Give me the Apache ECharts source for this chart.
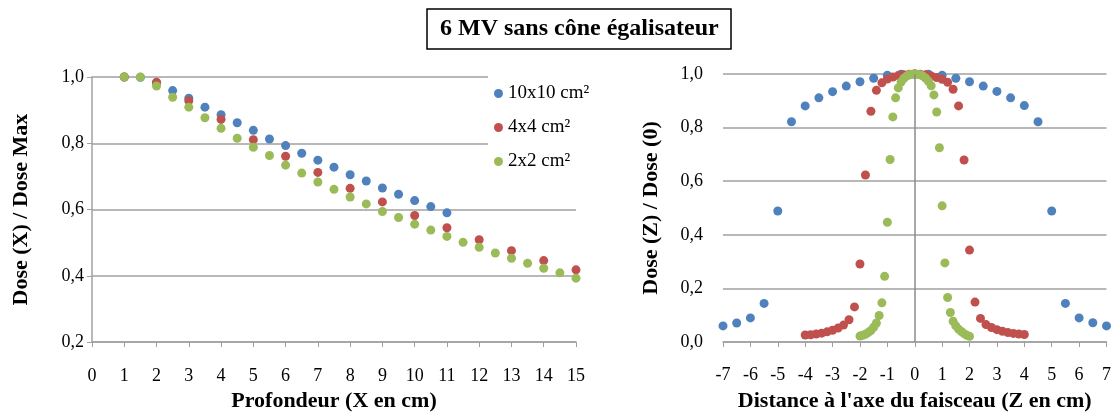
<!DOCTYPE html>
<html>
<head>
<meta charset="utf-8">
<script src="https://cdn.jsdelivr.net/npm/echarts@6/dist/echarts.min.js"></script>
<style>
  html, body { margin: 0; padding: 0; background: #fff; }
  #chart { width: 1114px; height: 417px; }
</style>
</head>
<body>
<div id="chart"></div>
<script>
// rendement en profondeur (gauche)
const depth10 = [1, 1.5, 2, 2.5, 3, 3.5, 4, 4.5, 5, 5.5, 6, 6.5, 7, 7.5, 8, 8.5, 9, 9.5, 10, 10.5, 11]
const pdd10 = [1.000, 0.999, 0.982, 0.959, 0.936, 0.909, 0.886, 0.862, 0.839, 0.813, 0.793, 0.770, 0.749, 0.728, 0.705, 0.686, 0.665, 0.646, 0.627, 0.609, 0.590]
const depth4 = [1, 2, 3, 4, 5, 6, 7, 8, 9, 10, 11, 12, 13, 14, 15]
const pdd4 = [1.000, 0.984, 0.928, 0.872, 0.811, 0.761, 0.712, 0.664, 0.623, 0.582, 0.545, 0.509, 0.476, 0.446, 0.418]
const depth2 = [1, 1.5, 2, 2.5, 3, 3.5, 4, 4.5, 5, 5.5, 6, 6.5, 7, 7.5, 8, 8.5, 9, 9.5, 10, 10.5, 11, 11.5, 12, 12.5, 13, 13.5, 14, 14.5, 15]
const pdd2 = [1.000, 1.000, 0.973, 0.939, 0.909, 0.877, 0.845, 0.815, 0.788, 0.763, 0.734, 0.710, 0.683, 0.661, 0.638, 0.617, 0.594, 0.576, 0.556, 0.538, 0.519, 0.501, 0.486, 0.469, 0.453, 0.438, 0.423, 0.409, 0.393]

// profils de dose (droite)
const dist10 = [-7, -6.5, -6, -5.5, -5, -4.5, -4, -3.5, -3, -2.5, -2, -1.5, -1, -0.5, 0, 0.5, 1, 1.5, 2, 2.5, 3, 3.5, 4, 4.5, 5, 5.5, 6, 6.5, 7]
const prof10 = [0.060, 0.071, 0.090, 0.144, 0.489, 0.822, 0.881, 0.911, 0.934, 0.955, 0.971, 0.984, 0.995, 0.999, 1.000, 0.999, 0.995, 0.984, 0.971, 0.955, 0.935, 0.911, 0.882, 0.822, 0.489, 0.144, 0.090, 0.072, 0.060]
const dist4 = [-4, -3.8, -3.6, -3.4, -3.2, -3, -2.8, -2.6, -2.4, -2.2, -2, -1.8, -1.6, -1.4, -1.2, -1, -0.8, -0.6, -0.4, -0.2, 0,
  0.2, 0.4, 0.6, 0.8, 1, 1.2, 1.4, 1.6, 1.8, 2, 2.2, 2.4, 2.6, 2.8, 3, 3.2, 3.4, 3.6, 3.8, 4]
const prof4 = [0.026, 0.027, 0.030, 0.033, 0.038, 0.044, 0.052, 0.063, 0.083, 0.131, 0.291, 0.623, 0.861, 0.939, 0.967, 0.981, 0.989, 0.994, 0.997, 0.999, 1.000,
  0.999, 0.997, 0.993, 0.987, 0.980, 0.969, 0.943, 0.881, 0.679, 0.343, 0.149, 0.088, 0.065, 0.054, 0.046, 0.040, 0.035, 0.032, 0.030, 0.028]
const dist2 = [-2, -1.9, -1.8, -1.7, -1.6, -1.5, -1.4, -1.3, -1.2, -1.1, -1, -0.9, -0.8, -0.7, -0.6, -0.5, -0.4, -0.3, -0.2, -0.1, 0,
  0.1, 0.2, 0.3, 0.4, 0.5, 0.6, 0.7, 0.8, 0.9, 1, 1.1, 1.2, 1.3, 1.4, 1.5, 1.6, 1.7, 1.8, 1.9, 2]
const prof2 = [0.022, 0.025, 0.029, 0.035, 0.043, 0.055, 0.071, 0.099, 0.146, 0.245, 0.447, 0.681, 0.840, 0.911, 0.948, 0.970, 0.983, 0.992, 0.997, 0.999, 1.000,
  0.999, 0.997, 0.992, 0.984, 0.973, 0.956, 0.922, 0.858, 0.725, 0.508, 0.295, 0.166, 0.110, 0.077, 0.060, 0.048, 0.039, 0.031, 0.025, 0.021]

const names = ['10x10 cm²', '4x4 cm²', '2x2 cm²']
const colors = ['#4F81BD', '#C0504D', '#9BBB59']

const FONT = 'Liberation Serif'
const gridGray = '#a0a0a0'

let zip = (xs, ys) => xs.map((x, i) => [x, ys[i]])
let fmt = (v) => v.toFixed(1).replace('.', ',')
let nameStyle = { fontFamily: FONT, fontSize: 22, fontWeight: 'bold', color: '#000' }
let dots = { opacity: 1 }

let chart = echarts.init(document.getElementById('chart'))

chart.setOption({
  animation: false,
  color: colors,
  textStyle: { fontFamily: FONT, color: '#000' },
  title: {
    text: '6 MV sans cône égalisateur',
    left: 427,
    top: 9,
    padding: [8, 13, 8, 13],
    borderColor: '#000',
    borderWidth: 1.5,
    textStyle: { fontFamily: FONT, fontSize: 24, fontWeight: 'bold', color: '#000' }
  },
  legend: {
    orient: 'vertical',
    left: 488,
    top: 75,
    itemGap: 15,
    itemWidth: 9,
    itemHeight: 9,
    icon: 'circle',
    backgroundColor: '#fff',
    padding: [9, 8, 10, 6],
    data: names,
    textStyle: { fontFamily: FONT, fontSize: 19, color: '#000' }
  },
  grid: [
    { left: 92, top: 77, width: 484, height: 273 },
    { left: 723, top: 74, width: 385, height: 278 }
  ],
  xAxis: [
    {
      gridIndex: 0, type: 'value', min: 0, max: 15, interval: 1,
      name: 'Profondeur (X en cm)', nameLocation: 'middle', nameGap: 47,
      nameTextStyle: nameStyle,
      axisLine: { lineStyle: { color: gridGray, width: 1.5 } },
      axisTick: { show: true, length: 5, lineStyle: { color: gridGray } },
      axisLabel: { fontSize: 18, margin: 25, color: '#000' },
      splitLine: { show: false }
    },
    {
      gridIndex: 1, type: 'value', min: -7, max: 7, interval: 1,
      name: "Distance à l'axe du faisceau (Z en cm)", nameLocation: 'middle', nameGap: 48,
      nameTextStyle: nameStyle,
      axisLine: { lineStyle: { color: gridGray, width: 1.5 } },
      axisTick: { show: true, length: 5, lineStyle: { color: gridGray } },
      axisLabel: { fontSize: 18, margin: 24, color: '#000' },
      splitLine: { show: false }
    }
  ],
  yAxis: [
    {
      gridIndex: 0, type: 'value', min: 0.2, max: 1.0, interval: 0.2,
      name: 'Dose (X) / Dose Max', nameLocation: 'middle', nameGap: 60,
      nameTextStyle: nameStyle,
      axisLine: { show: true, lineStyle: { color: gridGray, width: 1.5 } },
      axisTick: { show: true, length: 5, lineStyle: { color: gridGray } },
      axisLabel: { fontSize: 18, margin: 8, color: '#000', formatter: fmt },
      splitLine: { lineStyle: { color: gridGray, width: 1.5 } }
    },
    {
      gridIndex: 1, type: 'value', min: 0, max: 1.0, interval: 0.2,
      name: 'Dose (Z) / Dose (0)', nameLocation: 'middle', nameGap: 61,
      nameTextStyle: nameStyle,
      axisLine: { show: false },
      axisTick: { show: false },
      axisLabel: { fontSize: 18, margin: 20, color: '#000', formatter: fmt },
      splitLine: { lineStyle: { color: gridGray, width: 1.5 } }
    }
  ],
  series: [
    { name: names[0], type: 'scatter', xAxisIndex: 0, yAxisIndex: 0, symbolSize: 9, itemStyle: dots, data: zip(depth10, pdd10) },
    { name: names[1], type: 'scatter', xAxisIndex: 0, yAxisIndex: 0, symbolSize: 9, itemStyle: dots, data: zip(depth4, pdd4) },
    { name: names[2], type: 'scatter', xAxisIndex: 0, yAxisIndex: 0, symbolSize: 9, itemStyle: dots, data: zip(depth2, pdd2) },
    {
      name: names[0], type: 'scatter', xAxisIndex: 1, yAxisIndex: 1, symbolSize: 9, itemStyle: dots, data: zip(dist10, prof10),
      // axe vertical en Z = 0
      markLine: {
        silent: true, symbol: 'none', label: { show: false },
        lineStyle: { color: '#8c8c8c', type: 'solid', width: 1.5 },
        data: [{ xAxis: 0 }]
      }
    },
    { name: names[1], type: 'scatter', xAxisIndex: 1, yAxisIndex: 1, symbolSize: 9, itemStyle: dots, data: zip(dist4, prof4) },
    { name: names[2], type: 'scatter', xAxisIndex: 1, yAxisIndex: 1, symbolSize: 9, itemStyle: dots, data: zip(dist2, prof2) }
  ]
})
</script>
</body>
</html>
